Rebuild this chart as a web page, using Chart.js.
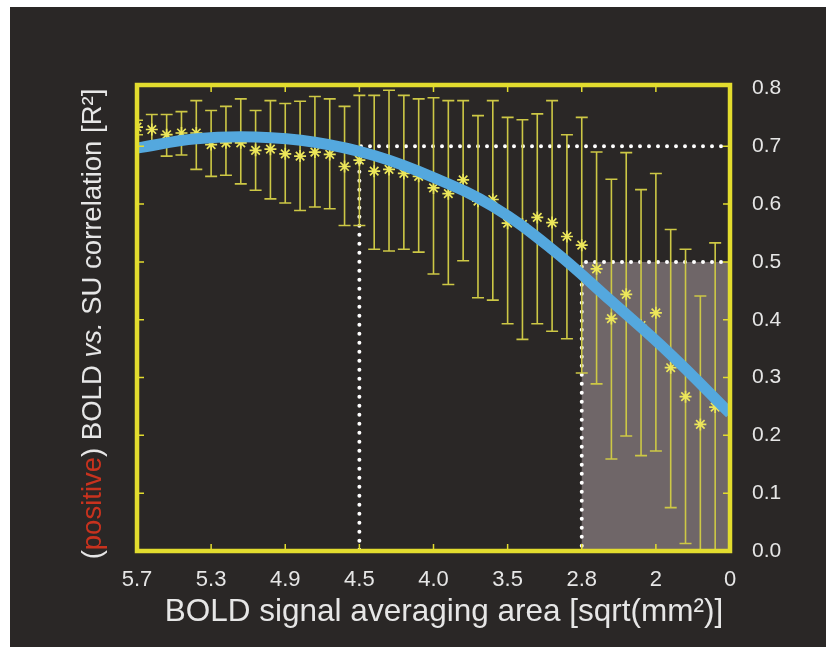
<!DOCTYPE html>
<html>
<head>
<meta charset="utf-8">
<script src="https://cdn.jsdelivr.net/npm/chart.js@4.4.1/dist/chart.umd.min.js"></script>
<style>
  html, body { margin: 0; padding: 0; background: #ffffff; }
  canvas { display: block; }
</style>
</head>
<body>
<canvas id="c" width="826" height="647"></canvas>
<script>
// ---------- data ----------
const xTickLabels = ['5.7', '5.3', '4.9', '4.5', '4.0', '3.5', '2.8', '2', '0'];
const xTickPositions = [0, 5, 10, 15, 20, 25, 30, 35, 40];
const yTickValues = [0.0, 0.1, 0.2, 0.3, 0.4, 0.5, 0.6, 0.7, 0.8];

const pointIndex = [0, 1, 2, 3, 4, 5, 6, 7, 8, 9, 10, 11, 12, 13, 14, 15, 16, 17, 18, 19,
                    20, 21, 22, 23, 24, 25, 26, 27, 28, 29, 30, 31, 32, 33, 34, 35, 36, 37, 38, 39];
const meanR2 = [0.733, 0.729, 0.720, 0.723, 0.723, 0.703, 0.706, 0.706, 0.693, 0.695,
                0.687, 0.683, 0.690, 0.686, 0.665, 0.676, 0.657, 0.660, 0.653, 0.648,
                0.628, 0.618, 0.642, 0.605, 0.608, 0.567, 0.565, 0.577, 0.568, 0.544,
                0.529, 0.488, 0.402, 0.444, 0.390, 0.412, 0.317, 0.267, 0.219, 0.249];
const upperR2 = [0.745, 0.755, 0.755, 0.760, 0.779, 0.762, 0.769, 0.782, 0.762, 0.779,
                 0.774, 0.778, 0.786, 0.782, 0.769, 0.788, 0.788, 0.797, 0.788, 0.782,
                 0.784, 0.779, 0.779, 0.753, 0.779, 0.750, 0.746, 0.756, 0.779, 0.720,
                 0.750, 0.690, 0.643, 0.689, 0.625, 0.653, 0.556, 0.522, 0.441, 0.533];
const lowerR2 = [0.720, 0.700, 0.683, 0.685, 0.660, 0.648, 0.650, 0.635, 0.624, 0.609,
                 0.602, 0.589, 0.595, 0.592, 0.563, 0.563, 0.522, 0.519, 0.522, 0.517,
                 0.479, 0.461, 0.502, 0.438, 0.434, 0.393, 0.366, 0.393, 0.380, 0.367,
                 0.308, 0.289, 0.159, 0.199, 0.165, 0.173, 0.075, 0.013, -0.020, -0.020];

const fitX = [0, 4, 8, 12, 16, 20, 24, 28, 32, 36, 40];
const fitY = [0.697, 0.713, 0.716, 0.707, 0.684, 0.646, 0.596, 0.522, 0.432, 0.340, 0.238];

// guide lines: threshold R2 and the area index where the fit crosses it
const guideX = [15, 30];
const guideY = [0.7, 0.5];
const shadedX = [30, 40];
const shadedY = [0.0, 0.5];

// ---------- styles ----------
const YELLOW = '#e2dc2e';
const BAR = '#cdc845';
const STAR = '#ece65a';
const BLUE = 'rgb(84,168,222)';
const TEXT = '#e6e6e6';
const FONT = "'Liberation Sans', Arial, Helvetica, sans-serif";

const deco = {
  id: 'deco',
  beforeDraw(chart) {
    const ctx = chart.ctx;
    ctx.save();
    ctx.fillStyle = '#ffffff';
    ctx.fillRect(0, 0, chart.width, chart.height);
    ctx.fillStyle = '#2a2726';
    ctx.fillRect(10, 7, chart.width - 10, chart.height - 7);
    ctx.restore();
  },
  beforeDatasetsDraw(chart) {
    const ctx = chart.ctx, xs = chart.scales.x, ys = chart.scales.y, a = chart.chartArea;
    ctx.save();
    ctx.beginPath();
    ctx.rect(a.left, a.top, a.right - a.left, a.bottom - a.top);
    ctx.clip();
    // shaded region
    ctx.fillStyle = '#6f6668';
    const sx0 = xs.getPixelForValue(shadedX[0]), sx1 = xs.getPixelForValue(shadedX[1]);
    const sy0 = ys.getPixelForValue(shadedY[1]), sy1 = ys.getPixelForValue(shadedY[0]);
    ctx.fillRect(sx0, sy0, sx1 - sx0, sy1 - sy0);
    // dotted guide lines
    ctx.strokeStyle = '#ffffff';
    ctx.lineWidth = 4;
    ctx.lineCap = 'round';
    ctx.setLineDash([0, 9]);
    for (let i = 0; i < guideX.length; i++) {
      const gx = xs.getPixelForValue(guideX[i]);
      const gy = ys.getPixelForValue(guideY[i]);
      ctx.beginPath();
      ctx.moveTo(xs.getPixelForValue(40), gy);
      ctx.lineTo(gx, gy);
      ctx.lineTo(gx, ys.getPixelForValue(0));
      ctx.stroke();
    }
    ctx.setLineDash([]);
    // error bars
    ctx.strokeStyle = BAR;
    ctx.lineWidth = 1.6;
    ctx.lineCap = 'butt';
    for (let i = 0; i < pointIndex.length; i++) {
      const px = xs.getPixelForValue(pointIndex[i]);
      const yt = ys.getPixelForValue(upperR2[i]);
      const yb = ys.getPixelForValue(lowerR2[i]);
      ctx.beginPath();
      ctx.moveTo(px, yt); ctx.lineTo(px, yb);
      ctx.moveTo(px - 6, yt); ctx.lineTo(px + 6, yt);
      ctx.moveTo(px - 6, yb); ctx.lineTo(px + 6, yb);
      ctx.stroke();
    }
    ctx.restore();
  },
  afterDatasetsDraw(chart) {
    const ctx = chart.ctx, xs = chart.scales.x, ys = chart.scales.y, a = chart.chartArea;
    ctx.save();
    ctx.strokeStyle = YELLOW;
    ctx.lineWidth = 1.5;
    ctx.beginPath();
    for (const v of xTickPositions.slice(1, -1)) {
      const px = xs.getPixelForValue(v);
      ctx.moveTo(px, a.bottom); ctx.lineTo(px, a.bottom - 7);
      ctx.moveTo(px, a.top); ctx.lineTo(px, a.top + 7);
    }
    for (const v of yTickValues.slice(1, -1)) {
      const py = ys.getPixelForValue(v);
      ctx.moveTo(a.left, py); ctx.lineTo(a.left + 7, py);
      ctx.moveTo(a.right, py); ctx.lineTo(a.right - 7, py);
    }
    ctx.stroke();
    ctx.lineWidth = 4.5;
    ctx.strokeRect(a.left, a.top, a.right - a.left, a.bottom - a.top);
    ctx.restore();
  },
  afterDraw(chart) {
    const ctx = chart.ctx;
    ctx.save();
    // x title
    ctx.fillStyle = TEXT;
    ctx.font = '31.5px ' + FONT;
    ctx.textAlign = 'center';
    ctx.textBaseline = 'middle';
    ctx.fillText('BOLD signal averaging area [sqrt(mm\u00B2)]', 444, 612);
    // y title (multi-colour)
    const parts = [
      ['(', TEXT, 'normal'],
      ['positive', '#c8321e', 'normal'],
      [') BOLD ', TEXT, 'normal'],
      ['vs.', TEXT, 'italic'],
      [' SU correlation [R\u00B2]', TEXT, 'normal']
    ];
    const size = 27.5;
    let total = 0;
    for (const p of parts) { ctx.font = p[2] + ' ' + size + 'px ' + FONT; total += ctx.measureText(p[0]).width; }
    ctx.translate(93, 324);
    ctx.rotate(-Math.PI / 2);
    ctx.textAlign = 'left';
    ctx.textBaseline = 'middle';
    let x = -total / 2;
    for (const p of parts) {
      ctx.font = p[2] + ' ' + size + 'px ' + FONT;
      ctx.fillStyle = p[1];
      ctx.fillText(p[0], x, 0);
      x += ctx.measureText(p[0]).width;
    }
    ctx.restore();
  }
};

new Chart(document.getElementById('c'), {
  data: {
    datasets: [
      {
        type: 'line',
        label: 'fit',
        data: fitX.map((v, i) => ({ x: v, y: fitY[i] })),
        borderColor: BLUE,
        borderWidth: 11,
        pointRadius: 0,
        tension: 0.4,
        fill: false,
        order: 1
      },
      {
        type: 'scatter',
        label: 'mean R2',
        data: pointIndex.map((v, i) => ({ x: v, y: meanR2[i] })),
        pointStyle: 'star',
        pointRadius: 6,
        borderColor: STAR,
        backgroundColor: STAR,
        pointBorderWidth: 1.7,
        order: 2
      }
    ]
  },
  options: {
    responsive: false,
    devicePixelRatio: 1,
    animation: false,
    layout: { padding: { left: 137, top: 85, right: 0, bottom: 0 } },
    plugins: { legend: { display: false }, tooltip: { enabled: false } },
    scales: {
      x: {
        type: 'linear',
        position: 'bottom',
        min: 0, max: 40,
        grid: { display: false, drawTicks: false },
        border: { display: false },
        afterBuildTicks: s => { s.ticks = xTickPositions.map(v => ({ value: v })); },
        afterFit: s => { s.height = 96; },
        ticks: {
          color: TEXT,
          padding: 16,
          maxRotation: 0,
          autoSkip: false,
          font: { size: 22, family: FONT },
          callback: (v, i) => xTickLabels[i]
        }
      },
      y: {
        type: 'linear',
        position: 'right',
        min: 0, max: 0.806,
        grid: { display: false, drawTicks: false },
        border: { display: false },
        afterBuildTicks: s => { s.ticks = yTickValues.map(v => ({ value: v })); },
        afterFit: s => { s.width = 96; },
        ticks: {
          color: TEXT,
          padding: 22,
          font: { size: 21, family: FONT },
          callback: v => Number(v).toFixed(1)
        }
      }
    }
  },
  plugins: [deco]
});
</script>
</body>
</html>
